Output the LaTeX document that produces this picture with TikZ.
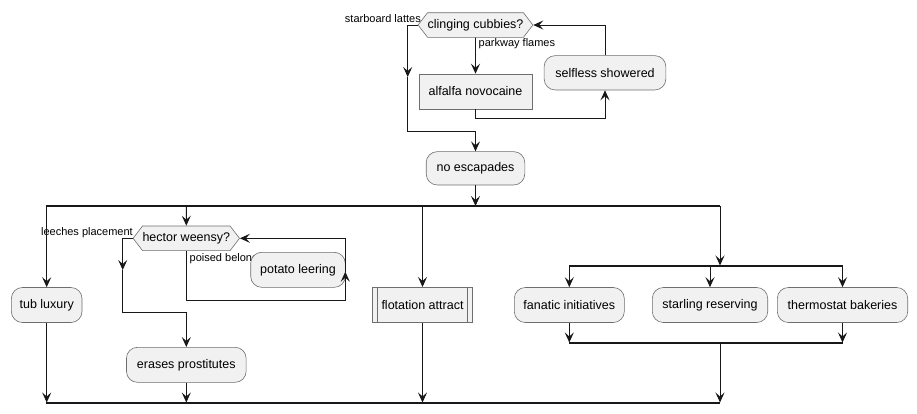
\documentclass[tikz,border=0pt]{standalone}
\usepackage{fontspec}
\setmainfont{Liberation Sans}
\usetikzlibrary{arrows.meta,shapes.symbols}
\definecolor{boxfill}{HTML}{F1F1F1}
\definecolor{boxline}{HTML}{6E6E6E}
\definecolor{flowclr}{HTML}{181818}
\tikzset{
  act/.style={draw=boxline, fill=boxfill, line width=0.6pt, rounded corners=11pt,
    minimum height=35pt, inner sep=0pt, font=\fontsize{12.5}{14}\selectfont},
  plainbox/.style={act, sharp corners},
  test/.style={act, sharp corners, signal, signal to=west and east,
    signal pointer angle=105, minimum height=24.6pt},
  lbl/.style={inner sep=0pt, font=\fontsize{11}{13}\selectfont},
  flow/.style={draw=flowclr, line width=0.9pt, -{Stealth[length=10pt,width=9pt,inset=4pt]}},
  bar/.style={draw=flowclr, line width=2pt},
}
\begin{document}
\begin{tikzpicture}[x=1pt,y=-1pt]
  \useasboundingbox (0,0) rectangle (917,413);

  % top loop
  \node[test, minimum width=105pt] (cling) at (475.5,25) {clinging cubbies?};
  \node[lbl, anchor=east] (sblat) at (421,18.5) {starboard lattes};
  \node[lbl, anchor=west] (pkfl) at (478.5,44) {parkway flames};
  \node[plainbox, minimum width=113pt] (alfalfa) at (475.5,91.5) {alfalfa novocaine};
  \node[act, minimum width=121.7pt, minimum height=34.3pt] (selfless) at (605,72.8) {selfless showered};
  \node[act, minimum width=98.6pt, minimum height=33.3pt] (noesc) at (475.5,168.3) {no escapades};

  \coordinate (sbmid) at (407.7,77);
  \coordinate (sbjoin) at (475.5,131.5);
  \coordinate (lp1) at (475.5,118.3);
  \draw[flow] (cling.west) -| (sbmid);
  \draw[flow] (sbmid) |- (sbjoin) -- (noesc);
  \draw[flow] (cling) -- (alfalfa);
  \draw[flow] (alfalfa) -- (lp1) -| (selfless);
  \draw[flow] (selfless) |- (cling);

  % fork
  \coordinate (f1a) at (45.7,206);
  \coordinate (f1b) at (720,206);
  \coordinate (j1a) at (45.7,402.5);
  \coordinate (j1b) at (720,402.5);
  \draw[bar] (f1a) -- (f1b);
  \draw[bar] (j1a) -- (j1b);
  \draw[flow] (noesc) -- (noesc |- f1a);

  \node[act, minimum width=70.6pt] (tub) at (46.7,305) {tub luxury};
  \node[test, minimum width=102.7pt] (hector) at (186.3,238.3) {hector weensy?};
  \node[lbl, anchor=east] (leech) at (133,232.5) {leeches placement};
  \node[lbl, anchor=west] (poised) at (189.5,258.3) {poised belonging};
  \node[act, minimum width=94.6pt] (potato) at (298,269.8) {potato leering};
  \node[act, minimum width=119.7pt] (erases) at (186.3,364.8) {erases prostitutes};
  \node[plainbox, minimum width=99.7pt] (flot) at (422.5,304.8) {flotation attract};
  \draw[draw=boxline, line width=0.6pt] ([xshift=5pt]flot.north west) -- ([xshift=5pt]flot.south west);
  \draw[draw=boxline, line width=0.6pt] ([xshift=-5pt]flot.north east) -- ([xshift=-5pt]flot.south east);

  \draw[flow] (tub |- f1a) -- (tub);
  \draw[flow] (hector |- f1a) -- (hector);
  \draw[flow] (flot |- f1a) -- (flot);

  \coordinate (hlmid) at (122.7,270);
  \coordinate (hljoin) at (186.3,312.5);
  \draw[flow] (hector.west) -| (hlmid);
  \draw[flow] (hlmid) |- (hljoin) -- (erases);
  \coordinate (hrturn) at (345.3,300);
  \coordinate (hrmid) at (345.3,271.7);
  \draw[flow] (hector.south) |- (hrturn) -- (hrmid);
  \draw[flow] (hrmid) |- (hector.east);

  \draw[flow] (tub) -- (tub |- j1a);
  \draw[flow] (erases) -- (erases |- j1a);
  \draw[flow] (flot) -- (flot |- j1a);

  % inner fork
  \coordinate (f2a) at (569.3,265.5);
  \coordinate (f2b) at (842.5,265.5);
  \coordinate (j2a) at (569.3,342.5);
  \coordinate (j2b) at (842.5,342.5);
  \draw[bar] (f2a) -- (f2b);
  \draw[bar] (j2a) -- (j2b);
  \draw[flow] (f1b) -- (f1b |- f2a);

  \node[act, minimum width=110pt] (fanatic) at (569.3,305) {fanatic initiatives};
  \node[act, minimum width=115.4pt] (starling) at (710,305) {starling reserving};
  \node[act, minimum width=130.4pt] (thermo) at (842.5,305) {thermostat bakeries};

  \draw[flow] (fanatic |- f2a) -- (fanatic);
  \draw[flow] (starling |- f2a) -- (starling);
  \draw[flow] (thermo |- f2a) -- (thermo);
  \draw[flow] (fanatic) -- (fanatic |- j2a);
  \draw[flow] (thermo) -- (thermo |- j2a);
  \draw[flow] (f1b |- j2a) -- (f1b |- j1a);
\end{tikzpicture}
\end{document}
